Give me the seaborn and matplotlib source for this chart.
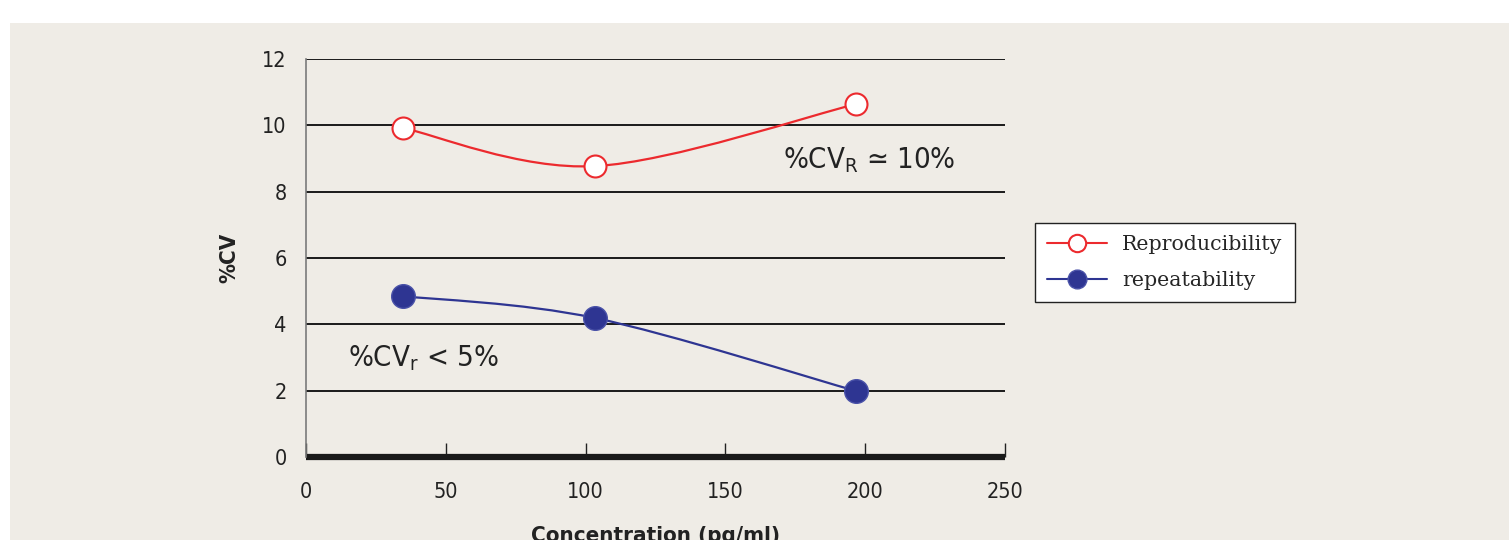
import numpy as np
import pandas as pd
import matplotlib
matplotlib.use('Agg')
import matplotlib.pyplot as plt
import seaborn as sns
from matplotlib.path import Path
from matplotlib.patches import PathPatch, Rectangle
from matplotlib.lines import Line2D

# Datos
concentracion = [34.7, 103.4, 196.7]
reproducibilidad = [9.92, 8.77, 10.64]
repetibilidad = [4.85, 4.19, 1.99]
x_ticks = [0, 50, 100, 150, 200, 250]
y_ticks = [0, 2, 4, 6, 8, 10, 12]

rojo = '#ec2a2e'
azul = '#2e3592'
fondo = '#efece6'

sns.set_theme(style='white')
plt.rcParams['font.family'] = ['DejaVu Sans']
plt.rcParams['font.stretch'] = 'condensed'
plt.rcParams['mathtext.default'] = 'regular'

df = pd.DataFrame({'conc': concentracion * 2,
                   'cv': reproducibilidad + repetibilidad,
                   'serie': ['Reproducibility'] * 3 + ['repeatability'] * 3})

fig = plt.figure(figsize=(15.09, 5.4), dpi=100)
fig.patch.set_facecolor('white')
fig.patches.append(Rectangle((10 / 1509, 0), 1, 1 - 23 / 540, transform=fig.transFigure,
                             facecolor=fondo, edgecolor='none', zorder=-10))
ax = fig.add_axes([306 / 1509, 83 / 540, 699 / 1509, 398 / 540])
ax.set_facecolor(fondo)


def curva_suave(xs, ys):
    # curva tipo Excel (Catmull-Rom en Bezier)
    p = np.column_stack([xs, ys])
    p = np.vstack([p[0], p, p[-1]])
    verts = [tuple(p[1])]
    codes = [Path.MOVETO]
    for i in range(1, len(p) - 2):
        c1 = p[i] + (p[i + 1] - p[i - 1]) / 6
        c2 = p[i + 1] - (p[i + 2] - p[i]) / 6
        verts += [tuple(c1), tuple(c2), tuple(p[i + 1])]
        codes += [Path.CURVE4] * 3
    return Path(verts, codes)


ax.add_patch(PathPatch(curva_suave(concentracion, reproducibilidad), facecolor='none',
                       edgecolor=rojo, lw=1.6, zorder=3))
ax.add_patch(PathPatch(curva_suave(concentracion, repetibilidad), facecolor='none',
                       edgecolor=azul, lw=1.6, zorder=3))

sns.scatterplot(data=df[df.serie == 'Reproducibility'], x='conc', y='cv', ax=ax,
                color='white', edgecolor=rojo, linewidth=1.5, s=250, zorder=4, legend=False)
sns.scatterplot(data=df[df.serie == 'repeatability'], x='conc', y='cv', ax=ax,
                color=azul, edgecolor='#4a52a8', linewidth=1.0, s=290, zorder=4, legend=False)

ax.set_xlim(0, 250)
ax.set_ylim(0, 12)
ax.set_xticks(x_ticks)
ax.set_yticks(y_ticks)
for y in y_ticks[1:]:
    ax.axhline(y, color='#1a1a1a', lw=1.4, zorder=1)
ax.axhline(0, color='#1a1a1a', lw=4.5, zorder=2, clip_on=False, solid_capstyle='butt')

for s in ['top', 'right']:
    ax.spines[s].set_visible(False)
ax.spines['bottom'].set_visible(False)
ax.spines['left'].set_color('#7a7a7a')
ax.spines['left'].set_linewidth(1.2)

ax.tick_params(axis='y', length=0, pad=14, labelsize=15.5, labelcolor='#222222')
ax.tick_params(axis='x', direction='in', length=10, width=1, color='#222222', pad=18,
               labelsize=15.5, labelcolor='#222222', bottom=True)

ax.set_xlabel('Concentration (pg/ml)', fontsize=16, fontweight='bold', labelpad=17, color='#222222')
ax.set_ylabel('%CV', fontsize=16, fontweight='bold', labelpad=16, color='#222222')

ax.text(170.6, 8.95, '%CV$_{R}$ \u2243 10%', fontsize=21, va='center', ha='left', color='#222222')
ax.text(15.0, 2.98, '%CV$_{r}$ < 5%', fontsize=21, va='center', ha='left', color='#222222')

handles = [Line2D([], [], color=rojo, lw=1.5, marker='o', markersize=12.5,
                  markerfacecolor='white', markeredgecolor=rojo, markeredgewidth=1.5),
           Line2D([], [], color=azul, lw=1.5, marker='o', markersize=13.5,
                  markerfacecolor=azul, markeredgecolor='#4a52a8')]
leg = fig.legend(handles, ['Reproducibility', 'repeatability'], loc='upper left',
                 bbox_to_anchor=(1035 / 1509, 1 - 223 / 540), bbox_transform=fig.transFigure,
                 borderaxespad=0, fancybox=False, framealpha=1, edgecolor='#222222',
                 facecolor='white', handlelength=2.9, handletextpad=0.75, labelspacing=0.8,
                 borderpad=0.6, prop={'family': 'DejaVu Serif', 'size': 14.8,
                                      'stretch': 'normal'})
leg.get_frame().set_linewidth(1.0)

plt.savefig('out.png', dpi=100, facecolor=fig.get_facecolor())
